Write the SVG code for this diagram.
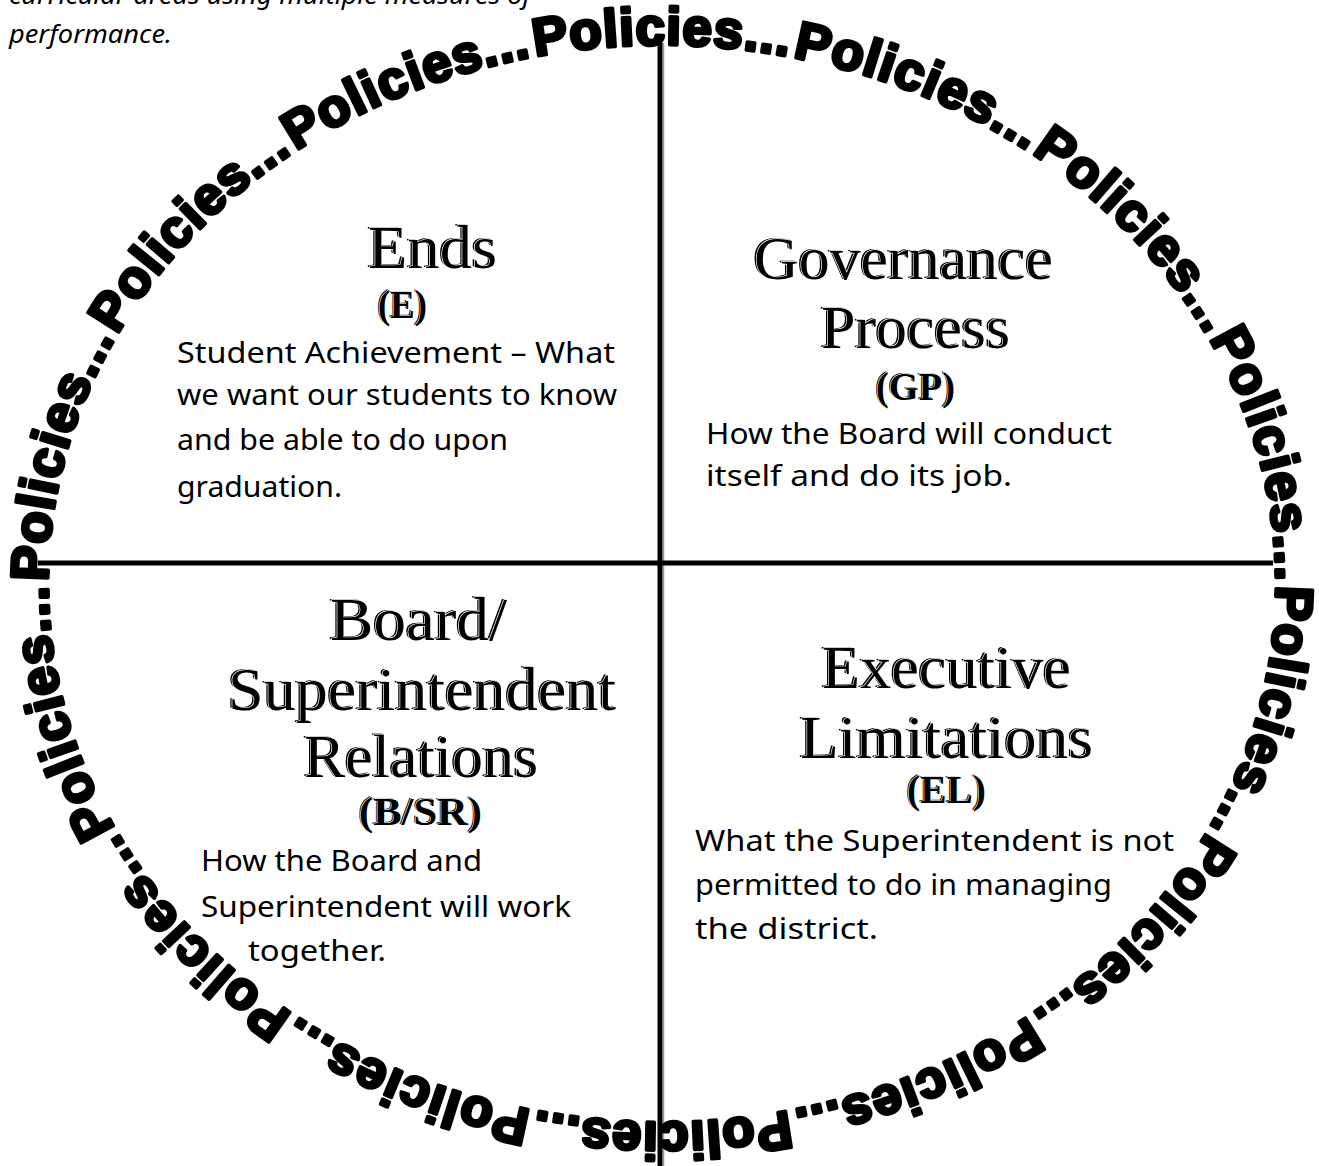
<svg xmlns="http://www.w3.org/2000/svg" xmlns:xlink="http://www.w3.org/1999/xlink" width="1319" height="1166" viewBox="0 0 1319 1166">
<style>
.ring{font-family:"Liberation Sans",Arial,sans-serif;font-weight:bold;font-size:53px;fill:#000;stroke:#000;stroke-width:3.6;stroke-linejoin:round;letter-spacing:1px}
.ttl{font-family:"Liberation Serif","Times New Roman",serif;font-size:62px;fill:#000}
.sub{font-family:"Liberation Serif","Times New Roman",serif;font-size:40px;font-weight:bold;fill:#000}
.front{stroke:#fff;stroke-width:1.3;paint-order:stroke;stroke-linejoin:round}
.body{font-family:"Noto Sans","DejaVu Sans",sans-serif;font-size:29px;fill:#000}
.top{font-family:"Noto Sans","DejaVu Sans",sans-serif;font-size:25px;font-style:italic;fill:#000}
.axis{stroke:#000;stroke-width:5;fill:none}
.axsh{stroke:#999;stroke-width:1.5;fill:none}
</style>
<defs>
<path id="ringPath" d="M 48,583.5 A 614,538.5 0 1 1 1276,583.5 A 614,538.5 0 1 1 48,583.5 A 614,538.5 0 1 1 1276,583.5"/>
</defs>
<rect width="1319" height="1166" fill="#fff"/>

<g id="intro">
<text class="top" x="9" y="4" textLength="522" lengthAdjust="spacingAndGlyphs">curricular areas using multiple measures of</text>
<text class="top" x="9" y="43" textLength="163" lengthAdjust="spacingAndGlyphs">performance.</text>
</g>

<g id="connectors">
<line class="axsh" x1="663.5" y1="43" x2="663.5" y2="1166"/>
<line class="axis" x1="660" y1="43" x2="660" y2="1166"/>
<line class="axis" x1="38" y1="563" x2="1273" y2="563"/>
</g>

<g id="policies-ring">
<text class="ring"><textPath xlink:href="#ringPath" startOffset="2">Policies...</textPath></text>
<text class="ring"><textPath xlink:href="#ringPath" startOffset="260.9">Policies...</textPath></text>
<text class="ring"><textPath xlink:href="#ringPath" startOffset="519.8">Policies...</textPath></text>
<text class="ring"><textPath xlink:href="#ringPath" startOffset="778.7">Policies...</textPath></text>
<text class="ring"><textPath xlink:href="#ringPath" startOffset="1037.6">Policies...</textPath></text>
<text class="ring"><textPath xlink:href="#ringPath" startOffset="1296.5">Policies...</textPath></text>
<text class="ring"><textPath xlink:href="#ringPath" startOffset="1555.4">Policies...</textPath></text>
<text class="ring"><textPath xlink:href="#ringPath" startOffset="1814.3">Policies...</textPath></text>
<text class="ring"><textPath xlink:href="#ringPath" startOffset="2073.2">Policies...</textPath></text>
<text class="ring"><textPath xlink:href="#ringPath" startOffset="2332.1">Policies...</textPath></text>
<text class="ring"><textPath xlink:href="#ringPath" startOffset="2591">Policies...</textPath></text>
<text class="ring"><textPath xlink:href="#ringPath" startOffset="2849.9">Policies...</textPath></text>
<text class="ring"><textPath xlink:href="#ringPath" startOffset="3108.8">Policies...</textPath></text>
<text class="ring"><textPath xlink:href="#ringPath" startOffset="3367.7">Policies...</textPath></text>
</g>

<g id="ends">
<text class="ttl" x="366" y="266.5" textLength="129" lengthAdjust="spacingAndGlyphs">Ends</text>
<text class="ttl front" x="368" y="268" textLength="129" lengthAdjust="spacingAndGlyphs">Ends</text>
<text class="sub" x="376.5" y="317" textLength="49" lengthAdjust="spacingAndGlyphs">(E)</text>
<text class="sub front" x="378" y="318" textLength="49" lengthAdjust="spacingAndGlyphs">(E)</text>
<text class="body" x="177" y="363" textLength="438" lengthAdjust="spacingAndGlyphs">Student Achievement – What</text>
<text class="body" x="177" y="405" textLength="440" lengthAdjust="spacingAndGlyphs">we want our students to know</text>
<text class="body" x="177" y="450" textLength="331" lengthAdjust="spacingAndGlyphs">and be able to do upon</text>
<text class="body" x="177" y="497" textLength="165" lengthAdjust="spacingAndGlyphs">graduation.</text>
</g>

<g id="governance-process">
<text class="ttl" x="752" y="277.5" textLength="299" lengthAdjust="spacingAndGlyphs">Governance</text>
<text class="ttl front" x="754" y="279" textLength="299" lengthAdjust="spacingAndGlyphs">Governance</text>
<text class="ttl" x="819" y="346.5" textLength="189" lengthAdjust="spacingAndGlyphs">Process</text>
<text class="ttl front" x="821" y="348" textLength="189" lengthAdjust="spacingAndGlyphs">Process</text>
<text class="sub" x="874.5" y="399" textLength="79" lengthAdjust="spacingAndGlyphs">(GP)</text>
<text class="sub front" x="876" y="400" textLength="79" lengthAdjust="spacingAndGlyphs">(GP)</text>
<text class="body" x="706" y="444" textLength="406" lengthAdjust="spacingAndGlyphs">How the Board will conduct</text>
<text class="body" x="706" y="486" textLength="306" lengthAdjust="spacingAndGlyphs">itself and do its job.</text>
</g>

<g id="board-superintendent-relations">
<text class="ttl" x="328" y="638.5" textLength="177" lengthAdjust="spacingAndGlyphs">Board/</text>
<text class="ttl front" x="330" y="640" textLength="177" lengthAdjust="spacingAndGlyphs">Board/</text>
<text class="ttl" x="226" y="708.5" textLength="388" lengthAdjust="spacingAndGlyphs">Superintendent</text>
<text class="ttl front" x="228" y="710" textLength="388" lengthAdjust="spacingAndGlyphs">Superintendent</text>
<text class="ttl" x="302" y="775.5" textLength="234" lengthAdjust="spacingAndGlyphs">Relations</text>
<text class="ttl front" x="304" y="777" textLength="234" lengthAdjust="spacingAndGlyphs">Relations</text>
<text class="sub" x="357.5" y="824" textLength="123" lengthAdjust="spacingAndGlyphs">(B/SR)</text>
<text class="sub front" x="359" y="825" textLength="123" lengthAdjust="spacingAndGlyphs">(B/SR)</text>
<text class="body" x="201" y="871" textLength="281" lengthAdjust="spacingAndGlyphs">How the Board and</text>
<text class="body" x="201" y="917" textLength="370" lengthAdjust="spacingAndGlyphs">Superintendent will work</text>
<text class="body" x="248" y="961" textLength="138" lengthAdjust="spacingAndGlyphs">together.</text>
</g>

<g id="executive-limitations">
<text class="ttl" x="820" y="686.5" textLength="249" lengthAdjust="spacingAndGlyphs">Executive</text>
<text class="ttl front" x="822" y="688" textLength="249" lengthAdjust="spacingAndGlyphs">Executive</text>
<text class="ttl" x="798" y="756.5" textLength="293" lengthAdjust="spacingAndGlyphs">Limitations</text>
<text class="ttl front" x="800" y="758" textLength="293" lengthAdjust="spacingAndGlyphs">Limitations</text>
<text class="sub" x="905.5" y="802" textLength="79" lengthAdjust="spacingAndGlyphs">(EL)</text>
<text class="sub front" x="907" y="803" textLength="79" lengthAdjust="spacingAndGlyphs">(EL)</text>
<text class="body" x="695" y="851" textLength="479" lengthAdjust="spacingAndGlyphs">What the Superintendent is not</text>
<text class="body" x="695" y="895" textLength="417" lengthAdjust="spacingAndGlyphs">permitted to do in managing</text>
<text class="body" x="695" y="939" textLength="183" lengthAdjust="spacingAndGlyphs">the district.</text>
</g>
</svg>
